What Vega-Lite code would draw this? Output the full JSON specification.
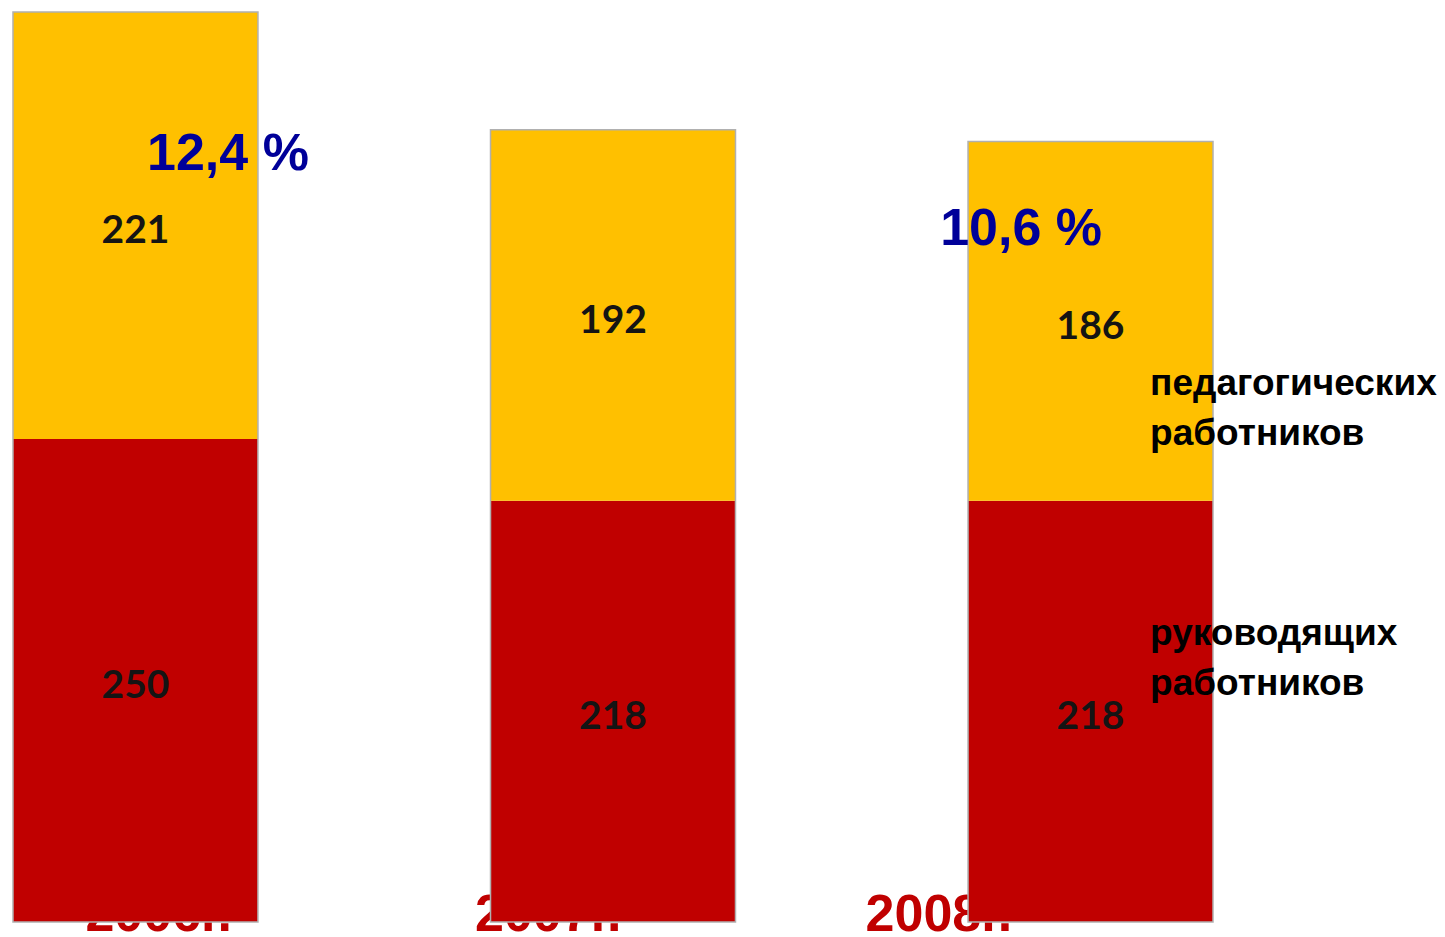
{
  "$schema": "https://vega.github.io/schema/vega-lite/v6.json",
  "autosize": "none",
  "width": 1226,
  "height": 910,
  "padding": {"left": 0, "top": 12, "right": 219, "bottom": 15},
  "background": "white",
  "config": {"view": {"stroke": null}},
  "data": {"values": [
    {"year": "2006г.", "role": "руководящих", "count": 250},
    {"year": "2006г.", "role": "педагогических", "count": 221},
    {"year": "2007г.", "role": "руководящих", "count": 218},
    {"year": "2007г.", "role": "педагогических", "count": 192},
    {"year": "2008г.", "role": "руководящих", "count": 218},
    {"year": "2008г.", "role": "педагогических", "count": 186}
  ]},
  "encoding": {
    "x": {"field": "year", "type": "nominal", "scale": {"paddingInner": 0.487, "paddingOuter": 0.0272}, "axis": null}
  },
  "layer": [
    {
      "transform": [{"filter": "datum.year === '2006г.' && datum.role === 'руководящих'"}],
      "mark": {"type": "text", "align": "right", "baseline": "alphabetic", "font": "Liberation Sans", "fontWeight": "bold", "fontSize": 52, "color": "#C00000"},
      "encoding": {
        "x": {"field": "year", "type": "nominal", "bandPosition": 0.894, "axis": null},
        "y": {"datum": -4.66, "type": "quantitative", "axis": null},
        "text": {"field": "year", "type": "nominal"}
      }
    },
    {
      "transform": [{"filter": "datum.year === '2007г.' && datum.role === 'руководящих'"}],
      "mark": {"type": "text", "align": "right", "baseline": "alphabetic", "font": "Liberation Sans", "fontWeight": "bold", "fontSize": 52, "color": "#C00000"},
      "encoding": {
        "x": {"field": "year", "type": "nominal", "bandPosition": 0.535, "axis": null},
        "y": {"datum": -4.66, "type": "quantitative", "axis": null},
        "text": {"field": "year", "type": "nominal"}
      }
    },
    {
      "transform": [{"filter": "datum.year === '2008г.' && datum.role === 'руководящих'"}],
      "mark": {"type": "text", "align": "right", "baseline": "alphabetic", "font": "Liberation Sans", "fontWeight": "bold", "fontSize": 52, "color": "#C00000"},
      "encoding": {
        "x": {"field": "year", "type": "nominal", "bandPosition": 0.18, "axis": null},
        "y": {"datum": -4.66, "type": "quantitative", "axis": null},
        "text": {"field": "year", "type": "nominal"}
      }
    },
    {
      "mark": {"type": "bar"},
      "encoding": {
        "y": {"field": "count", "type": "quantitative", "stack": "zero", "scale": {"domain": [0, 471], "nice": false, "zero": true}, "axis": null},
        "color": {"field": "role", "type": "nominal", "scale": {"domain": ["руководящих", "педагогических"], "range": ["#C00000", "#FFC000"]}, "legend": null},
        "order": {"field": "role", "type": "nominal", "sort": "descending"}
      }
    },
    {
      "mark": {"type": "bar", "filled": false, "color": "#b0b0b0", "strokeWidth": 1.5},
      "encoding": {
        "y": {"aggregate": "sum", "field": "count", "type": "quantitative", "axis": null}
      }
    },
    {
      "mark": {"type": "text", "align": "center", "baseline": "middle", "dy": 6, "font": "Lato", "fontWeight": "bold", "fontSize": 39, "color": "#141414"},
      "encoding": {
        "y": {"field": "count", "type": "quantitative", "stack": "zero", "bandPosition": 0.5, "axis": null},
        "detail": {"field": "role", "type": "nominal"},
        "order": {"field": "role", "type": "nominal", "sort": "descending"},
        "text": {"field": "count", "type": "quantitative"}
      }
    },
    {
      "transform": [{"filter": "datum.year === '2006г.' && datum.role === 'педагогических'"}],
      "mark": {"type": "text", "align": "left", "baseline": "alphabetic", "font": "Liberation Sans", "fontWeight": "bold", "fontSize": 52, "color": "#000099"},
      "encoding": {
        "x": {"field": "year", "type": "nominal", "bandPosition": 0.547, "axis": null},
        "y": {"datum": 389.2, "type": "quantitative", "axis": null},
        "text": {"value": "12,4 %"}
      }
    },
    {
      "transform": [{"filter": "datum.year === '2008г.' && datum.role === 'педагогических'"}],
      "mark": {"type": "text", "align": "right", "baseline": "alphabetic", "font": "Liberation Sans", "fontWeight": "bold", "fontSize": 52, "color": "#000099"},
      "encoding": {
        "x": {"field": "year", "type": "nominal", "bandPosition": 0.547, "axis": null},
        "y": {"datum": 350.4, "type": "quantitative", "axis": null},
        "text": {"value": "10,6 %"}
      }
    },
    {
      "transform": [{"filter": "datum.year === '2008г.' && datum.role === 'педагогических'"}],
      "mark": {"type": "text", "align": "left", "baseline": "alphabetic", "font": "Liberation Sans", "fontWeight": "bold", "fontSize": 37, "lineHeight": 50, "lineBreak": "\n", "color": "#000000"},
      "encoding": {
        "x": {"field": "year", "type": "nominal", "bandPosition": 0.743, "axis": null},
        "y": {"datum": 272.8, "type": "quantitative", "axis": null},
        "text": {"value": "педагогических\nработников"}
      }
    },
    {
      "transform": [{"filter": "datum.year === '2008г.' && datum.role === 'руководящих'"}],
      "mark": {"type": "text", "align": "left", "baseline": "alphabetic", "font": "Liberation Sans", "fontWeight": "bold", "fontSize": 37, "lineHeight": 50, "lineBreak": "\n", "color": "#000000"},
      "encoding": {
        "x": {"field": "year", "type": "nominal", "bandPosition": 0.743, "axis": null},
        "y": {"datum": 143.4, "type": "quantitative", "axis": null},
        "text": {"value": "руководящих\nработников"}
      }
    }
  ]
}
